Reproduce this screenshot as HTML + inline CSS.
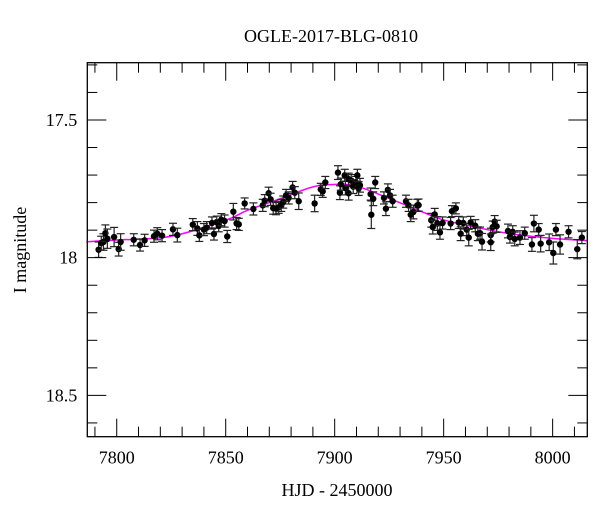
<!DOCTYPE html>
<html><head><meta charset="utf-8"><style>
body{margin:0;background:#fff;}
svg text{font-family:"Liberation Serif",serif;fill:#000;}
</style></head><body>
<svg id="chart" width="600" height="512" xmlns="http://www.w3.org/2000/svg">
<text x="331" y="42" font-size="18" text-anchor="middle">OGLE-2017-BLG-0810</text>
<text x="337" y="496" font-size="18" text-anchor="middle">HJD - 2450000</text>
<text x="26" y="250" font-size="18" text-anchor="middle" transform="rotate(-90 26 250)">I magnitude</text>
<g id="model"></g>
<g id="pts"></g>
<g id="axes"></g>
</svg>
<script>
const days=[7791.7,7792.9,7793.9,7794.8,7795.7,7798.8,7800.9,7801.8,7807.8,7810.7,7812.8,7817.1,7818.6,7820.8,7825.8,7827.8,7834.9,7837.0,7837.9,7840.0,7841.3,7843.7,7844.6,7845.9,7846.8,7848.0,7849.5,7850.7,7853.5,7855.0,7856.0,7858.7,7862.7,
7867.0,7867.9,7869.7,7870.6,7871.8,7873.1,7874.3,7875.5,7876.4,7877.7,7878.9,7880.7,7881.7,7883.5,7890.8,7893.6,7894.5,7895.7,7901.5,7902.4,7902.8,7904.6,7904.9,7906.4,7906.4,7907.6,7908.5,7909.8,7910.4,7911.0,7911.6,7916.5,7916.8,7917.7,7918.6,7922.6,7923.5,7924.4,7925.4,7926.6,7932.7,7933.9,7934.9,7936.1,7937.9,
7938.5,7944.3,7945.0,7945.9,7947.1,7948.3,7949.5,7953.2,7953.8,7955.6,7956.9,7957.8,7959.0,7960.6,7961.5,7962.4,7964.5,7965.7,7966.7,7967.6,7971.6,7971.6,7972.5,7973.4,7974.3,7979.5,7980.4,7981.7,7982.6,7985.0,7987.2,7990.5,7991.4,7993.6,7994.5,7998.4,8000.3,8001.5,8003.4,8007.3,8011.3,8013.4];
const mags=[17.971,17.947,17.943,17.911,17.931,17.925,17.969,17.943,17.935,17.954,17.937,17.922,17.913,17.92,17.897,17.918,17.88,17.894,17.919,17.898,17.891,17.874,17.914,17.871,17.884,17.862,17.867,17.923,17.833,17.876,17.879,17.803,17.823,
17.810,17.793,17.766,17.788,17.820,17.822,17.817,17.810,17.798,17.774,17.783,17.745,17.764,17.795,17.803,17.752,17.759,17.727,17.691,17.764,17.733,17.701,17.747,17.715,17.766,17.720,17.742,17.727,17.701,17.749,17.737,17.769,17.844,17.786,17.727,17.783,17.822,17.754,17.774,17.795,17.795,17.810,17.844,17.834,17.810,
17.809,17.864,17.889,17.843,17.876,17.908,17.874,17.876,17.831,17.821,17.872,17.913,17.874,17.898,17.927,17.872,17.884,17.913,17.911,17.942,17.918,17.944,17.889,17.869,17.886,17.903,17.925,17.906,17.932,17.927,17.911,17.952,17.876,17.898,17.949,17.944,17.983,17.898,17.952,17.906,17.969,17.927];
const errs=[0.028,0.025,0.03,0.03,0.035,0.035,0.025,0.03,0.022,0.022,0.022,0.022,0.022,0.022,0.022,0.025,0.022,0.025,0.022,0.022,0.022,0.022,0.022,0.022,0.022,0.022,0.022,0.022,0.03,0.022,0.022,0.02,0.022,
0.022,0.022,0.022,0.022,0.022,0.022,0.022,0.022,0.022,0.022,0.022,0.022,0.022,0.03,0.03,0.022,0.022,0.022,0.025,0.025,0.022,0.022,0.025,0.022,0.025,0.022,0.025,0.022,0.022,0.025,0.025,0.022,0.05,0.025,0.022,0.022,0.025,0.022,0.022,0.022,0.022,0.022,0.025,0.025,0.022,
0.022,0.025,0.025,0.022,0.025,0.025,0.022,0.022,0.02,0.02,0.022,0.025,0.022,0.022,0.03,0.022,0.022,0.025,0.022,0.03,0.025,0.03,0.022,0.022,0.022,0.025,0.022,0.022,0.025,0.025,0.022,0.025,0.03,0.022,0.03,0.03,0.04,0.022,0.035,0.022,0.035,0.022];
const modelDays=[7786,7800,7825,7850,7860,7875,7890,7900,7910,7925,7940,7950,7965,7980,8000,8016];
const modelMags=[17.942,17.936,17.922,17.864,17.828,17.786,17.743,17.734,17.74,17.785,17.833,17.863,17.89,17.912,17.93,17.938];
const xTicks=[7800,7850,7900,7950,8000];
const yTicks=[17.5,18,18.5];

const L=87.3,R=587.3,T=62.7,B=436.7;
const X0=7786.5,X1=8015.9,Y0=17.292,Y1=18.65;
const sx=v=>L+(v-X0)/(X1-X0)*(R-L);
const sy=v=>T+(v-Y0)/(Y1-Y0)*(B-T);
const NS='http://www.w3.org/2000/svg';
function mk(tag,parent,attrs){const e=document.createElementNS(NS,tag);for(const k in attrs)e.setAttribute(k,attrs[k]);parent.appendChild(e);return e;}

const mg=document.getElementById('model');
const mp=modelDays.map((d,i)=>[sx(d),sy(modelMags[i])]);
let d='M'+mp[0][0]+','+mp[0][1];
for(let i=0;i<mp.length-1;i++){const p0=mp[Math.max(0,i-1)],p1=mp[i],p2=mp[i+1],p3=mp[Math.min(mp.length-1,i+2)];
d+=' C'+(p1[0]+(p2[0]-p0[0])/6)+','+(p1[1]+(p2[1]-p0[1])/6)+' '+(p2[0]-(p3[0]-p1[0])/6)+','+(p2[1]-(p3[1]-p1[1])/6)+' '+p2[0]+','+p2[1];}
const ml=mk('path',mg,{d:d,fill:'none',stroke:'#ff00ff','stroke-width':1.5});



const pg=document.getElementById('pts');
days.forEach((dd,i)=>{
  const x=sx(dd),y=sy(mags[i]),y1=sy(mags[i]-errs[i]),y2=sy(mags[i]+errs[i]);
  const g=mk('g',pg,{stroke:'#222','stroke-width':1.2});
  
  
  mk('line',g,{x1:x,x2:x,y1:y1,y2:y2});
  mk('line',g,{x1:x-4,x2:x+4,y1:y1,y2:y1});
  mk('line',g,{x1:x-4,x2:x+4,y1:y2,y2:y2});
  mk('circle',g,{cx:x,cy:y,r:3.2,fill:'#000',stroke:'none'});
});

const ax=document.getElementById('axes');
const fr=mk('rect',ax,{x:L,y:T,width:R-L,height:B-T,fill:'none',stroke:'#000','stroke-width':1.3});


for(let v=7790;v<=8010;v+=10){
  const x=sx(v),maj=xTicks.includes(v),len=maj?18:10;
  mk('line',ax,{x1:x,x2:x,y1:B,y2:B-len,stroke:'#000','stroke-width':1});
  mk('line',ax,{x1:x,x2:x,y1:T,y2:T+len,stroke:'#000','stroke-width':1});
}
xTicks.forEach(v=>{const t=mk('text',ax,{x:sx(v),y:B+27,'font-size':18,'text-anchor':'middle'});t.textContent=v;
});
for(let k=3;k<=16;k++){
  const v=17+k/10,y=sy(v),maj=(k%5===0),len=maj?19:10;
  mk('line',ax,{x1:L,x2:L+len,y1:y,y2:y,stroke:'#000','stroke-width':1});
  mk('line',ax,{x1:R,x2:R-len,y1:y,y2:y,stroke:'#000','stroke-width':1});
}
yTicks.forEach(v=>{const t=mk('text',ax,{x:L-10,y:sy(v)+6,'font-size':18,'text-anchor':'end'});t.textContent=String(v);
});
</script>
</body></html>
